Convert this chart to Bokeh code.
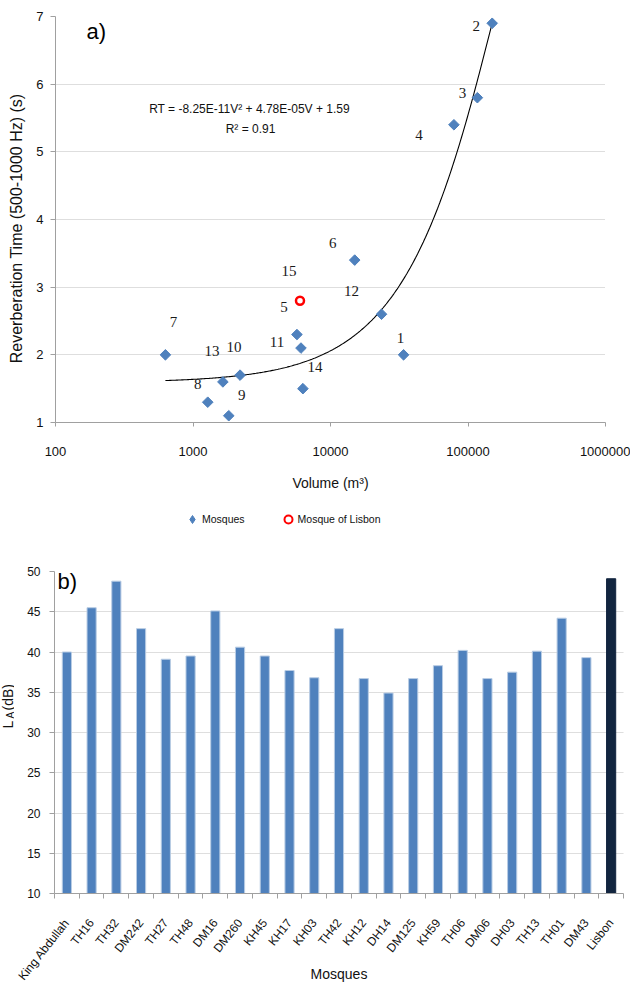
import numpy as np
from bokeh.plotting import figure
from bokeh.models import (ColumnDataSource, FixedTicker, BasicTickFormatter, Label,
                          Legend, LegendItem)
from bokeh.layouts import column, row
from bokeh.embed import file_html
from bokeh.resources import INLINE
from bokeh.core.properties import value

# ---------------- data: panel a) ----------------
mosque_ids = ["1", "2", "3", "4", "5", "6", "7", "8", "9", "10", "11", "12", "13", "14"]
volume_m3 = [34000, 150000, 117000, 79000, 6100, 15000, 630, 1280, 1820, 2200, 5700, 23500, 1650, 6300]
rt_s = [2.0, 6.9, 5.8, 5.4, 2.1, 3.4, 2.0, 1.3, 1.1, 1.7, 2.3, 2.6, 1.6, 1.5]
lisbon_id = ["15"]
lisbon_volume = [6000]
lisbon_rt = [2.8]
fit_a, fit_b, fit_c = -8.25e-11, 4.78e-05, 1.59
x_ticks_a = [100, 1000, 10000, 100000, 1000000]
y_ticks_a = [1, 2, 3, 4, 5, 6, 7]

# ---------------- data: panel b) ----------------
bar_names = ["King Abdullah", "TH16", "TH32", "DM242", "TH27", "TH48", "DM16", "DM260",
             "KH45", "KH17", "KH03", "TH42", "KH12", "DH14", "DM125", "KH59", "TH06",
             "DM06", "DH03", "TH13", "TH01", "DM43", "Lisbon"]
bar_la_db = [40.0, 45.5, 48.8, 42.9, 39.1, 39.5, 45.1, 40.6, 39.5, 37.7, 36.8, 42.9, 36.7,
             34.9, 36.7, 38.3, 40.2, 36.7, 37.5, 40.1, 44.2, 39.3, 49.1]
y_ticks_b = [10, 15, 20, 25, 30, 35, 40, 45, 50]

# ---------------- styles ----------------
SANS = "Liberation Sans"
SERIF = "Liberation Serif"
BLUE = "#4F81BD"
NAVY = "#12253F"
AXIS_GREY = "#A0A0A0"
GRID_GREY = "#BDBDBD"
TXT = "#111111"

# label offsets (screen px) for the numbers next to the points, ids 1..15
label_dx = [-3, -16, -15, -35, -17, -22, 8, -10, 13, -6, -20, -30, -11, 12, -11]
label_dy = [-17, 3, -5, 10, -41, -17, -33, -18, -21, -28, 7, -23, -31, -22, -30]

# ================= panel a =================
p1 = figure(width=630, height=500, x_axis_type="log", x_range=(100, 1e6), y_range=(1, 7),
            output_backend="svg", toolbar_location=None,
            min_border_left=55, min_border_right=25, min_border_top=16, min_border_bottom=78)
p1.outline_line_color = None
p1.xgrid.visible = False
p1.ygrid.grid_line_color = GRID_GREY
p1.ygrid.grid_line_dash = "1 1"
p1.ygrid.ticker = FixedTicker(ticks=y_ticks_a)

xa = p1.xaxis[0]
xa.ticker = FixedTicker(ticks=x_ticks_a)
xa.formatter = BasicTickFormatter(use_scientific=False)
xa.axis_label = "Volume (m³)"
ya = p1.yaxis[0]
ya.ticker = FixedTicker(ticks=y_ticks_a)
ya.axis_label = "Reverberation Time  (500-1000  Hz)   (s)"
for ax in (xa, ya):
    ax.axis_line_color = AXIS_GREY
    ax.major_tick_line_color = AXIS_GREY
    ax.minor_tick_line_color = None
    ax.major_tick_in = 0
    ax.major_tick_out = 5
    ax.major_label_text_font = SANS
    ax.major_label_text_font_size = "13px"
    ax.major_label_text_color = TXT
    ax.axis_label_text_font = SANS
    ax.axis_label_text_font_style = "normal"
    ax.axis_label_text_color = TXT
xa.major_tick_out = 4
xa.major_label_standoff = 20
xa.axis_label_text_font_size = "14px"
xa.axis_label_standoff = 16
ya.major_label_standoff = 7
ya.axis_label_text_font_size = "16px"
ya.axis_label_standoff = 8

# trend line from the fitted equation
v_fit = np.geomspace(min(volume_m3), max(volume_m3), 300)
rt_fit = fit_a * v_fit ** 2 + fit_b * v_fit + fit_c
p1.line(v_fit, rt_fit, line_color="black", line_width=1.1)

src_m = ColumnDataSource(dict(x=volume_m3, y=rt_s))
p1.scatter("x", "y", source=src_m, marker="square", angle=np.pi / 4, size=7.5,
           fill_color=BLUE, line_color=BLUE)
src_l = ColumnDataSource(dict(x=lisbon_volume, y=lisbon_rt))
p1.scatter("x", "y", source=src_l, marker="circle", size=8, fill_color=None,
           line_color="#FF0000", line_width=2.5)

src_t = ColumnDataSource(dict(x=volume_m3 + lisbon_volume, y=rt_s + lisbon_rt,
                              t=mosque_ids + lisbon_id, dx=label_dx, dy=label_dy))
p1.text("x", "y", text="t", source=src_t, x_offset="dx", y_offset="dy",
        text_font=value(SERIF), text_font_size="15px", text_align="center",
        text_baseline="middle", text_color="#1a1a1a")

p1.add_layout(Label(x=194, y=314, x_units="screen", y_units="screen",
                    text="RT = -8.25E-11V² + 4.78E-05V + 1.59", text_font=SANS,
                    text_font_size="12px", text_align="center", text_baseline="middle",
                    text_color=TXT))
p1.add_layout(Label(x=195, y=294, x_units="screen", y_units="screen",
                    text="R² = 0.91", text_font=SANS, text_font_size="12px",
                    text_align="center", text_baseline="middle", text_color=TXT))
p1.add_layout(Label(x=31, y=391, x_units="screen", y_units="screen", text="a)",
                    text_font=SANS, text_font_size="22px", text_align="left",
                    text_baseline="middle", text_color="black"))

# ================= legend strip of panel a =================
leg = figure(width=630, height=40, x_range=(0, 1), y_range=(0, 1),
             output_backend="svg", toolbar_location=None,
             min_border_left=55, min_border_right=25, min_border_top=0, min_border_bottom=0,
             x_axis_location=None, y_axis_location=None)
leg.outline_line_color = None
leg.grid.visible = False
k_m = leg.scatter(x=[np.nan], y=[np.nan], marker="diamond", fill_color=BLUE, line_color=BLUE)
k_l = leg.scatter(x=[np.nan], y=[np.nan], marker="circle", fill_color=None,
                  line_color="#FF0000", line_width=2)
legend = Legend(items=[LegendItem(label="Mosques", renderers=[k_m]),
                       LegendItem(label="Mosque of Lisbon", renderers=[k_l])],
                orientation="horizontal", location=(127, 11), padding=0, margin=0,
                spacing=33, glyph_width=20, glyph_height=20, label_standoff=0,
                label_text_font=SANS, label_text_font_size="10.5px",
                label_text_color=TXT, border_line_color=None,
                background_fill_alpha=0)
leg.add_layout(legend, "center")

# ================= panel b =================
n = len(bar_names)
pos = list(range(n))
STRIP = 14
p2 = figure(width=630 - STRIP, height=450, x_range=(-0.5, n - 0.5), y_range=(10, 50),
            output_backend="svg", toolbar_location=None,
            min_border_left=54 - STRIP, min_border_right=7, min_border_top=31,
            min_border_bottom=97)
p2.outline_line_color = None
p2.xgrid.visible = False
p2.ygrid.grid_line_color = GRID_GREY
p2.ygrid.grid_line_dash = "1 1"
p2.ygrid.ticker = FixedTicker(ticks=y_ticks_b)

colors = [NAVY if nm == "Lisbon" else BLUE for nm in bar_names]
edges = [NAVY if nm == "Lisbon" else "#B8CCE4" for nm in bar_names]
src_b = ColumnDataSource(dict(x=pos, top=bar_la_db, c=colors, e=edges))
p2.vbar(x="x", top="top", bottom=10, width=0.37, source=src_b, fill_color="c",
        line_color="e", line_width=1)

xb = p2.xaxis[0]
xb.ticker = FixedTicker(ticks=pos, minor_ticks=[i - 0.5 for i in range(n + 1)])
xb.major_label_overrides = {i: nm for i, nm in zip(pos, bar_names)}
xb.major_label_orientation = 0.9
xb.major_tick_line_color = None
xb.major_tick_out = 0
xb.major_tick_in = 0
xb.minor_tick_line_color = AXIS_GREY
xb.minor_tick_out = 5
xb.minor_tick_in = 0
xb.major_label_standoff = 22
xb.axis_label = "Mosques"
xb.axis_label_text_font = SANS
xb.axis_label_text_font_size = "14px"
xb.axis_label_text_font_style = "normal"
xb.axis_label_text_color = TXT
xb.axis_label_standoff = -24
yb = p2.yaxis[0]
yb.ticker = FixedTicker(ticks=y_ticks_b)
yb.minor_tick_line_color = None
yb.major_tick_line_color = AXIS_GREY
yb.major_tick_out = 5
yb.major_tick_in = 0
yb.major_label_standoff = 9
for ax in (xb, yb):
    ax.axis_line_color = AXIS_GREY
    ax.major_label_text_font = SANS
    ax.major_label_text_color = TXT
xb.major_label_text_font_size = "12px"
yb.major_label_text_font_size = "12px"

p2.add_layout(Label(x=3, y=312, x_units="screen", y_units="screen", text="b)",
                    text_font=SANS, text_font_size="22px", text_align="left",
                    text_baseline="middle", text_color="black"))

# narrow strip carrying the y-axis title  L_A (dB)  of panel b (frame aligned with p2)
lab = figure(width=STRIP, height=450, x_range=(0, STRIP), y_range=(0, 322),
             output_backend="svg", toolbar_location=None,
             min_border_left=0, min_border_right=0, min_border_top=31, min_border_bottom=97,
             x_axis_location=None, y_axis_location=None)
lab.outline_line_color = None
lab.grid.visible = False
lab.text(x=[7], y=[165], text=["L"], angle=np.pi / 2, text_font=value(SANS),
         text_font_size="14px", text_align="left", text_baseline="middle", text_color=TXT)
lab.text(x=[9.5], y=[175], text=["A"], angle=np.pi / 2, text_font=value(SANS),
         text_font_size="10px", text_align="left", text_baseline="middle", text_color=TXT)
lab.text(x=[7], y=[183], text=["(dB)"], angle=np.pi / 2, text_font=value(SANS),
         text_font_size="14px", text_align="left", text_baseline="middle", text_color=TXT)

layout = column(p1, leg, row(lab, p2))
open("out.html", "w").write(file_html(layout, INLINE))
